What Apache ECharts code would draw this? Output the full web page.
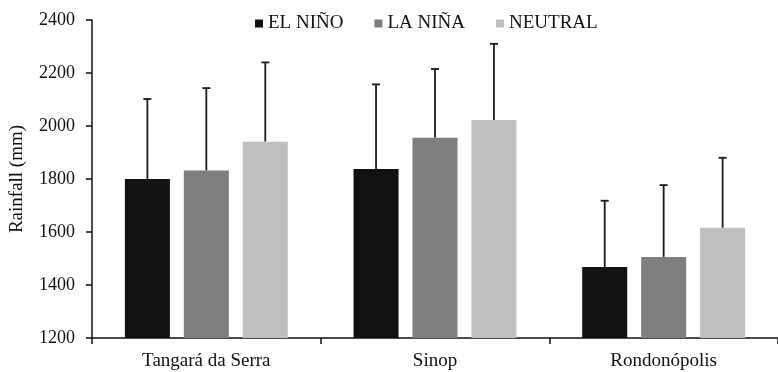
<!DOCTYPE html>
<html>
<head>
<meta charset="utf-8">
<script src="https://cdn.jsdelivr.net/npm/echarts@6/dist/echarts.min.js"></script>
<style>
  html, body { margin: 0; padding: 0; background: #fff; }
  #chart { width: 778px; height: 372px; }
</style>
</head>
<body>
<div id="chart"></div>
<script>
const cities = ['Tangará da Serra', 'Sinop', 'Rondonópolis'];
const phases = ['EL NIÑO', 'LA NIÑA', 'NEUTRAL'];
const colors = ['#111111', '#7f7f7f', '#bfbfbf'];

// mean rainfall (mm)
const elNino = [1800, 1838, 1468];
const laNina = [1832, 1956, 1506];
const neutral = [1941, 2023, 1616];

// upper end of the error bar (mean + sd)
const elNinoTop = [2102, 2157, 1718];
const laNinaTop = [2143, 2215, 1777];
const neutralTop = [2240, 2310, 1880];

const means = [elNino, laNina, neutral];
const tops = [elNinoTop, laNinaTop, neutralTop];

const barW = 45;
const gapRatio = 0.31;
const font = '"Liberation Serif", "Times New Roman", serif';

const chart = echarts.init(document.getElementById('chart'));

const series = [];
phases.forEach(function (name, i) {
    series.push({
        name: name,
        type: 'bar',
        barWidth: barW,
        barGap: (gapRatio * 100) + '%',
        itemStyle: { color: colors[i] },
        data: means[i]
    });
});

phases.forEach(function (name, i) {
    series.push({
        type: 'custom',
        silent: true,
        z: 1,
        data: means[i].map(function (v, k) { return [k, v, tops[i][k]]; }),
        renderItem: function (params, api) {
            const base = api.coord([api.value(0), api.value(1)]);
            const top = api.coord([api.value(0), api.value(2)]);
            const x = base[0] + (i - 1) * barW * (1 + gapRatio);
            const style = { stroke: '#1a1a1a', lineWidth: 1.8 };
            return {
                type: 'group',
                children: [
                    { type: 'line', shape: { x1: x, y1: base[1], x2: x, y2: top[1] }, style: style },
                    { type: 'line', shape: { x1: x - 4, y1: top[1], x2: x + 4, y2: top[1] }, style: style }
                ]
            };
        }
    });
});

chart.setOption({
    animation: false,
    textStyle: { fontFamily: font },
    legend: {
        data: phases,
        top: 9,
        left: 250,
        itemWidth: 8,
        itemHeight: 8,
        itemGap: 31,
        icon: 'rect',
        textStyle: { fontFamily: font, fontSize: 19, color: '#111' }
    },
    grid: { left: 91, right: -10, top: 20, bottom: 34 },
    xAxis: {
        type: 'category',
        data: cities,
        axisLine: { lineStyle: { color: '#111', width: 1.5 } },
        axisTick: { show: true, length: 6, lineStyle: { color: '#111', width: 1.5 } },
        axisLabel: { fontFamily: font, fontSize: 19, color: '#111', margin: 14 }
    },
    yAxis: {
        type: 'value',
        min: 1200,
        max: 2400,
        interval: 200,
        name: 'Rainfall (mm)',
        nameLocation: 'middle',
        nameGap: 65,
        nameTextStyle: { fontFamily: font, fontSize: 19, color: '#111' },
        splitLine: { show: false },
        axisLine: { show: true, lineStyle: { color: '#111', width: 1.5 } },
        axisTick: { show: true, length: 6, lineStyle: { color: '#111', width: 1.5 } },
        axisLabel: {
            fontFamily: font, fontSize: 18, color: '#111', margin: 17,
            formatter: function (v) { return String(v); }
        }
    },
    series: series
});
</script>
</body>
</html>
